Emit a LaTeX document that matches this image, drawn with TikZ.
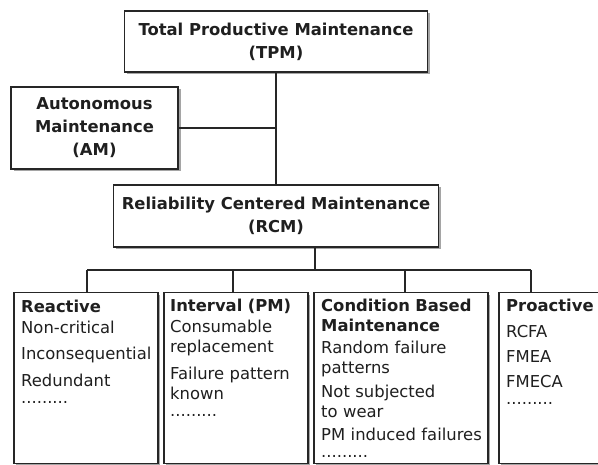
\documentclass[tikz,border=0pt]{standalone}
\usepackage{fontspec}
\setmainfont{DejaVu Sans}
\usetikzlibrary{shadows}
\begin{document}
\begin{tikzpicture}[x=1pt,y=-1pt,
  box/.style={draw=black!85, line width=1.5pt, fill=white, inner sep=0pt,
    drop shadow={shadow xshift=2.5pt, shadow yshift=-2.5pt, opacity=0.5, fill=black!70}},
  topbox/.style={box, align=center, text=black!88, font=\fontsize{16.4}{23}\selectfont\bfseries},
  txt/.style={anchor=base west, inner sep=0pt, align=left, text=black!88, font=\fontsize{16.4}{20}\selectfont},
  conn/.style={draw=black!85, line width=1.5pt}]
\useasboundingbox (0,0) rectangle (598,465);
\clip (0,0) rectangle (598,465);
\fill[white] (0,0) rectangle (598,465);

\node[topbox, minimum width=303pt, minimum height=61pt] (tpm) at (276,41.5) {Total Productive Maintenance\\(TPM)};
\node[topbox, minimum width=167pt, minimum height=82pt] (am) at (94.5,128) {Autonomous\\Maintenance\\(AM)};
\node[topbox, minimum width=325pt, minimum height=62pt] (rcm) at (276,216) {Reliability Centered Maintenance\\(RCM)};

\node[box, anchor=north west, minimum width=144pt, minimum height=171pt] (reac) at (13,292) {};
\node[box, anchor=north west, minimum width=144pt, minimum height=171pt] (intv) at (163,292) {};
\node[box, anchor=north west, minimum width=174pt, minimum height=171pt] (cbm) at (313,292) {};
\node[box, anchor=north west, minimum width=125pt, minimum height=171pt] (proa) at (498,292) {};

\node[txt, text width=140pt] (reactxt) at ([shift={(8,21)}]reac.north west)
  {\textbf{Reactive}\\[1pt]Non-critical\\[6pt]Inconsequential\\[7pt]Redundant\\[-3pt].........};
\node[txt, text width=140pt] (intvtxt) at ([shift={(7,20)}]intv.north west)
  {\textbf{Interval (PM)}\\[1pt]Consumable\\replacement\\[7pt]Failure pattern\\known\\[-3pt].........};
\node[txt, text width=170pt] (cbmtxt) at ([shift={(8,20)}]cbm.north west)
  {\textbf{Condition Based}\\\textbf{Maintenance}\\[2pt]Random failure\\patterns\\[4pt]Not subjected\\to wear\\[3pt]PM induced failures\\[-3pt].........};
\node[txt, text width=110pt] (proatxt) at ([shift={(8,20)}]proa.north west)
  {\textbf{Proactive}\\[6pt]RCFA\\[5pt]FMEA\\[5pt]FMECA\\[-3pt].........};

\draw[conn] (tpm.south) -- (rcm.north);
\coordinate (amj) at (tpm.south |- am.east);
\draw[conn] (am.east) -- (amj);
\coordinate (bus) at (315,270);
\draw[conn] (rcm.south -| bus) -- (bus);
\coordinate (b1) at (87,270);
\coordinate (b2) at (233,270);
\coordinate (b3) at (405,270);
\coordinate (b4) at (531,270);
\draw[conn] (b1) -- (b4);
\draw[conn] (b1) -- (b1 |- reac.north);
\draw[conn] (b2) -- (b2 |- intv.north);
\draw[conn] (b3) -- (b3 |- cbm.north);
\draw[conn] (b4) -- (b4 |- proa.north);
\end{tikzpicture}
\end{document}
